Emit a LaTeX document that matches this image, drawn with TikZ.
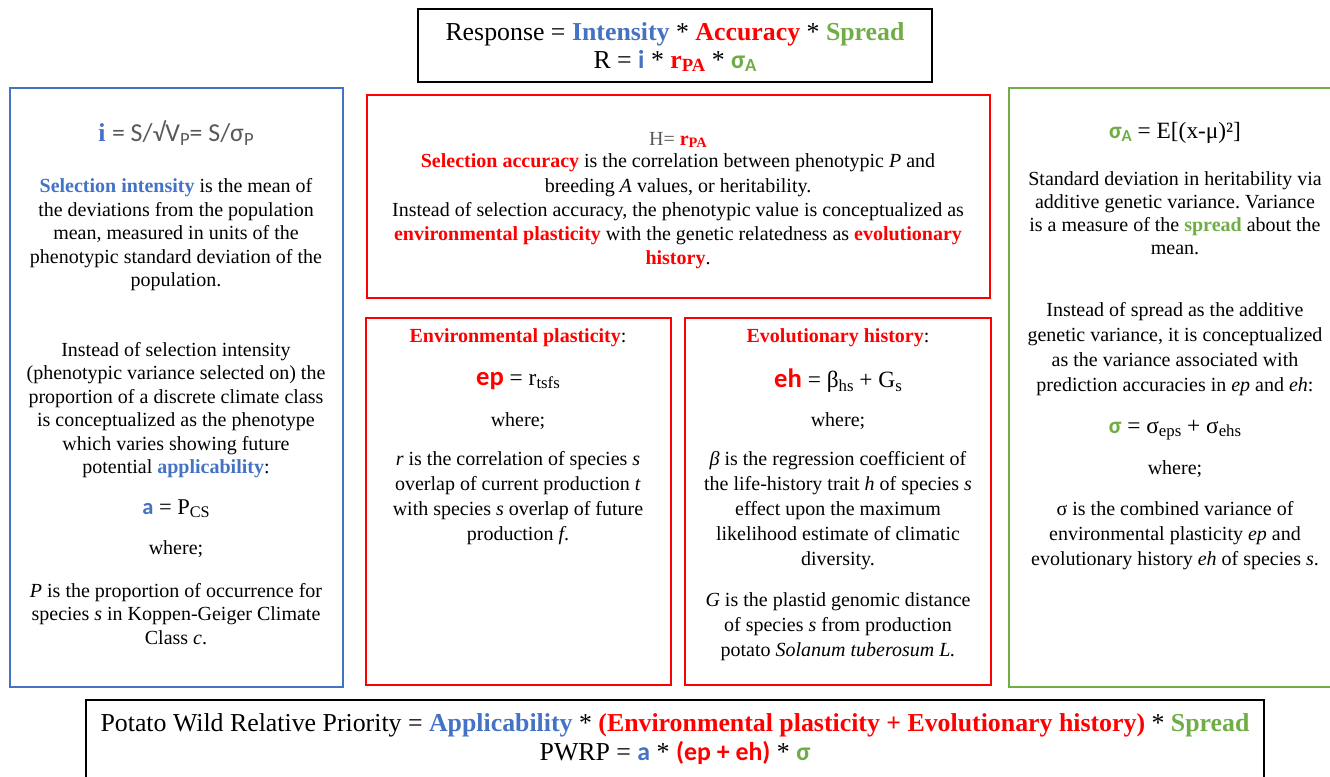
\documentclass[tikz,border=0pt]{standalone}
\usepackage{fontspec}
\usepackage{graphicx}
\setmainfont{Liberation Serif}
\newfontfamily\calib{Carlito}
\definecolor{ablue}{HTML}{4472C4}
\definecolor{ared}{HTML}{FF0000}
\definecolor{agreen}{HTML}{70AD47}
\definecolor{agrey}{HTML}{595959}
\frenchspacing
\newcommand{\blu}[1]{\textcolor{ablue}{\textbf{#1}}}
\newcommand{\rd}[1]{\textcolor{ared}{\textbf{#1}}}
\newcommand{\grn}[1]{\textcolor{agreen}{\textbf{#1}}}
\newcommand{\lo}[1]{\raisebox{-0.3ex}{\scalebox{0.72}{#1}}}
\newcommand{\rpa}{\textcolor{ared}{\textbf{r\lo{PA}}}}
\newcommand{\siga}{\textcolor{agreen}{{\calib\bfseries σ\lo{A}}}}
\newcommand{\sym}[2]{\textcolor{#1}{{\calib\bfseries #2}}}
\tikzset{panel/.style={line width=1.2pt},
  txt/.style={align=center,inner sep=0pt,font=\fontsize{12}{14.1}\selectfont},
  wide/.style={align=center,inner sep=0pt,font=\fontsize{12}{15}\selectfont},
  formula/.style={align=center,inner sep=0pt,font=\fontsize{14}{16}\selectfont},
  head/.style={align=center,inner sep=0pt,font=\fontsize{15.5}{17}\selectfont}}
\begin{document}
\begin{tikzpicture}[x=0.6pt,y=-0.6pt]
  \useasboundingbox (0,0) rectangle (1330,777);
  % boxes
  \draw[panel] (418,9) rectangle (932,82);
  \draw[panel,ablue] (10,88) rectangle (343,687);
  \draw[panel,ared] (367,95) rectangle (990,298);
  \draw[panel,ared] (366,318) rectangle (671,685);
  \draw[panel,ared] (685,318) rectangle (991,685);
  \draw[panel,agreen] (1009,88) rectangle (1341,687);
  \draw[panel] (86,700) rectangle (1264,790);
  % response
  \node[head,font=\fontsize{15.5}{16.8}\selectfont] (resp) at (675,47)
    {Response = \blu{Intensity} * \rd{Accuracy} * \grn{Spread}\\
     R = \sym{ablue}{i} * \rpa{} * \siga};
  % intensity
  \node[formula,font=\fontsize{15.5}{17}\selectfont] (iform) at (176,133)
    {\blu{i} {\calib\color{agrey}= S/√V\lo{P}= S/σ\lo{P}}};
  \node[txt] (idef) at (176,235)
    {\blu{Selection intensity} is the mean of\\
     the deviations from the population\\
     mean, measured in units of the\\
     phenotypic standard deviation of the\\
     population.};
  \node[txt] (ialt) at (176,410)
    {Instead of selection intensity\\
     (phenotypic variance selected on) the\\
     proportion of a discrete climate class\\
     is conceptualized as the phenotype\\
     which varies showing future\\
     potential \blu{applicability}:};
  \node[formula,font=\fontsize{13.5}{16}\selectfont] (aform) at (176,509) {\sym{ablue}{a} = P\lo{CS}};
  \node[txt] (awhere) at (176,549) {where;};
  \node[txt] (adef) at (176,614)
    {\textit{P} is the proportion of occurrence for\\
     species \textit{s} in Koppen-Geiger Climate\\
     Class \textit{c}.};
  % accuracy
  \node[txt] (hform) at (678,140) {\textcolor{agrey}{H=} \rpa};
  \node[txt,font=\fontsize{12}{14.5}\selectfont] (hdef) at (678,211.5)
    {\rd{Selection accuracy} is the correlation between phenotypic \textit{P} and\\
     breeding \textit{A} values, or heritability.\\
     Instead of selection accuracy, the phenotypic value is conceptualized as\\
     \rd{environmental plasticity} with the genetic relatedness as \rd{evolutionary}\\
     \rd{history}.};
  % plasticity
  \node[txt] (eptitle) at (518,338) {\rd{Environmental plasticity}:};
  \node[formula] (epform) at (518,381)
    {\sym{ared}{\fontsize{16}{16}\selectfont ep} = r\lo{tsfs}};
  \node[txt] (epwhere) at (518,421) {where;};
  \node[wide] (epdef) at (518,498.5)
    {\textit{r} is the correlation of species \textit{s}\\
     overlap of current production \textit{t}\\
     with species \textit{s} overlap of future\\
     production \textit{f}.};
  % history
  \node[txt] (ehtitle) at (838,338) {\rd{Evolutionary history}:};
  \node[formula] (ehform) at (838,381)
    {\sym{ared}{\fontsize{16}{16}\selectfont eh} = β\lo{hs} + G\lo{s}};
  \node[txt] (ehwhere) at (838,421) {where;};
  \node[wide] (ehdef) at (838,511)
    {\textit{β} is the regression coefficient of\\
     the life-history trait \textit{h} of species \textit{s}\\
     effect upon the maximum\\
     likelihood estimate of climatic\\
     diversity.};
  \node[wide] (gdef) at (838,627)
    {\textit{G} is the plastid genomic distance\\
     of species \textit{s} from production\\
     potato \textit{Solanum tuberosum L.}};
  % spread
  \node[formula] (sform) at (1175,133) {\siga{} = E[(x-μ)²]};
  \node[txt,font=\fontsize{12}{13.8}\selectfont] (sdef) at (1175,213.5)
    {Standard deviation in heritability via\\
     additive genetic variance. Variance\\
     is a measure of the \grn{spread} about the\\
     mean.};
  \node[wide] (salt) at (1175,349.5)
    {Instead of spread as the additive\\
     genetic variance, it is conceptualized\\
     as the variance associated with\\
     prediction accuracies in \textit{ep} and \textit{eh}:};
  \node[formula] (sigform) at (1175,430)
    {\sym{agreen}{σ} = σ\lo{eps} + σ\lo{ehs}};
  \node[txt] (swhere) at (1175,469) {where;};
  \node[wide] (sigdef) at (1175,535.5)
    {σ is the combined variance of\\
     environmental plasticity \textit{ep} and\\
     evolutionary history \textit{eh} of species \textit{s}.};
  % priority
  \node[head,font=\fontsize{15.5}{17.4}\selectfont] (pwrp) at (675,739.5)
    {Potato Wild Relative Priority = \blu{Applicability} *
     \rd{(Environmental plasticity + Evolutionary history)} * \grn{Spread}\\
     PWRP = \sym{ablue}{a} * \sym{ared}{(ep + eh)} * \sym{agreen}{σ}};
\end{tikzpicture}
\end{document}
